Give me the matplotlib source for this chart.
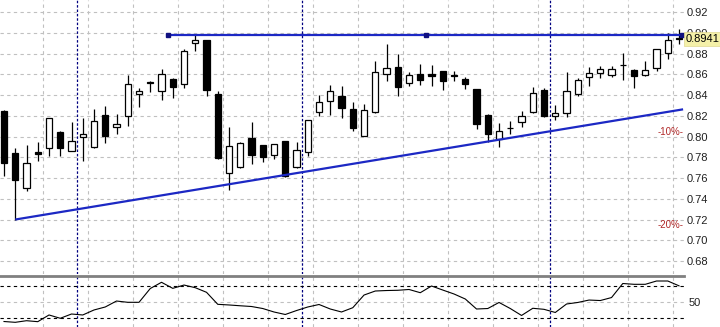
import numpy as np
import matplotlib
matplotlib.use('Agg')
import matplotlib.pyplot as plt

plt.rcParams['font.family'] = ['Liberation Sans', 'DejaVu Sans']

# ---OHLC data, one candle per bar
opens = [0.8252, 0.7839, 0.7505, 0.7854, 0.7887, 0.8046, 0.7864, 0.8000, 0.7897, 0.8214,
         0.8094, 0.8198, 0.8408, 0.8525, 0.8444, 0.8560, 0.8511, 0.8907, 0.8929, 0.8415,
         0.7650, 0.7709, 0.7984, 0.7916, 0.7822, 0.7958, 0.7709, 0.7851, 0.8237, 0.8344,
         0.8395, 0.8269, 0.8010, 0.8243, 0.8606, 0.8677, 0.8518, 0.8606, 0.8606, 0.8631,
         0.8594, 0.8560, 0.8456, 0.8211, 0.7978, 0.8085, 0.8140, 0.8243, 0.8447, 0.8204,
         0.8227, 0.8415, 0.8577, 0.8618, 0.8599, 0.8692, 0.8648, 0.8599, 0.8664, 0.8810,
         0.8950]
highs = [0.8255, 0.7887, 0.7919, 0.7946, 0.8185, 0.8055, 0.8146, 0.8179, 0.8269, 0.8298,
         0.8217, 0.8592, 0.8470, 0.8535, 0.8657, 0.8563, 0.8842, 0.8977, 0.8932, 0.8437,
         0.8097, 0.7951, 0.8140, 0.7920, 0.7932, 0.7960, 0.7946, 0.8162, 0.8398, 0.8502,
         0.8485, 0.8334, 0.8317, 0.8728, 0.8890, 0.8800, 0.8625, 0.8703, 0.8696, 0.8635,
         0.8631, 0.8573, 0.8460, 0.8215, 0.8130, 0.8155, 0.8250, 0.8480, 0.8470, 0.8305,
         0.8621, 0.8567, 0.8670, 0.8680, 0.8686, 0.8803, 0.8650, 0.8728, 0.8842, 0.9004,
         0.9036]
lows = [0.7621, 0.7201, 0.7476, 0.7767, 0.7813, 0.7813, 0.7860, 0.7767, 0.7890, 0.7936,
        0.8026, 0.8107, 0.8282, 0.8434, 0.8356, 0.8373, 0.8470, 0.8825, 0.8389, 0.7785,
        0.7483, 0.7699, 0.7735, 0.7757, 0.7781, 0.7613, 0.7700, 0.7813, 0.8204, 0.8211,
        0.8184, 0.8055, 0.8005, 0.8227, 0.8534, 0.8388, 0.8492, 0.8502, 0.8492, 0.8453,
        0.8541, 0.8460, 0.8075, 0.7951, 0.7903, 0.8023, 0.8097, 0.8227, 0.8188, 0.8162,
        0.8194, 0.8388, 0.8485, 0.8567, 0.8577, 0.8550, 0.8470, 0.8583, 0.8638, 0.8752,
        0.8890]
closes = [0.7751, 0.7586, 0.7751, 0.7835, 0.8179, 0.7887, 0.7955, 0.8026, 0.8150, 0.8010,
          0.8123, 0.8509, 0.8437, 0.8520, 0.8602, 0.8480, 0.8825, 0.8936, 0.8454, 0.7790,
          0.7907, 0.7936, 0.7822, 0.7800, 0.7929, 0.7621, 0.7871, 0.8159, 0.8334, 0.8441,
          0.8276, 0.8082, 0.8256, 0.8621, 0.8660, 0.8480, 0.8599, 0.8548, 0.8586, 0.8534,
          0.8590, 0.8512, 0.8120, 0.8026, 0.8055, 0.8080, 0.8201, 0.8421, 0.8201, 0.8227,
          0.8437, 0.8550, 0.8616, 0.8650, 0.8657, 0.8688, 0.8589, 0.8648, 0.8842, 0.8932,
          0.8941]

# ---Oscillator (lower panel)
osc = [26.2, 25.2, 27.2, 26.0, 34.3, 30.2, 35.5, 34.3, 40.5, 44.2,
       51.6, 50.0, 50.0, 67.1, 74.8, 67.3, 71.4, 68.1, 62.4, 47.5,
       46.7, 45.7, 44.8, 42.3, 38.0, 34.9, 39.8, 44.2, 47.3, 41.7,
       38.0, 43.3, 59.0, 64.0, 64.6, 64.9, 65.9, 61.9, 70.2, 65.2,
       60.3, 54.1, 41.7, 42.3, 49.8, 42.3, 33.7, 42.6, 41.3, 37.4,
       47.9, 49.8, 52.8, 52.2, 55.9, 73.3, 72.3, 72.3, 76.4, 76.4,
       70.4]

price_ticks = [0.68, 0.70, 0.72, 0.74, 0.76, 0.78, 0.80, 0.82, 0.84, 0.86, 0.88, 0.90, 0.92]
last_price = 0.8941
resist_level = 0.8984
resist_x = (14.6, 60.4)
trend_pts = ((1, 0.7201), (60.36, 0.8264))
separators = [6.5, 26.5, 48.5]
osc_levels = [30, 70]

W, H = 720, 327
fig = plt.figure(figsize=(W / 100, H / 100), dpi=100)
plot_w = 684 / W
ax = fig.add_axes([0, 1 - 273.5 / H, plot_w, 273.5 / H])
ax2 = fig.add_axes([0, 0, plot_w, 51 / H])

n = len(opens)
x = np.arange(n)
x_lo, x_hi = -0.356, 60.44

# ---Main panel grid
grid_kw = dict(color='#c0c0c0', lw=0.8, ls=(0, (3, 3)), zorder=0)
for gx in np.arange(3.5, n, 4):
    ax.axvline(gx, **grid_kw)
    ax2.axvline(gx, **grid_kw)
for gy in price_ticks:
    ax.axhline(gy, **grid_kw)
for sx in separators:
    ax.axvline(sx, color='#000080', lw=0.9, ls=(0, (2, 1.5)), zorder=1)
    ax2.axvline(sx, color='#000080', lw=0.9, ls=(0, (2, 1.5)), zorder=1)

# ---Candles
o = np.array(opens)
c = np.array(closes)
up = c >= o
ax.vlines(x, lows, highs, color='black', lw=0.9, zorder=2)
body_h = np.maximum(np.abs(c - o), 0.0002)
ax.bar(x[up], body_h[up], bottom=np.minimum(o, c)[up], width=0.55,
       facecolor='white', edgecolor='black', lw=0.9, zorder=3)
ax.bar(x[~up], body_h[~up], bottom=np.minimum(o, c)[~up], width=0.55,
       facecolor='black', edgecolor='black', lw=0.9, zorder=3)

# ---Trend lines
blue = '#1c28c4'
ax.plot([trend_pts[0][0], trend_pts[1][0]], [trend_pts[0][1], trend_pts[1][1]],
        color=blue, lw=1.6, zorder=4, solid_capstyle='butt')
ax.plot(resist_x, [resist_level, resist_level], color=blue, lw=1.6, zorder=4)
ax.plot([resist_x[0], np.mean(resist_x), resist_x[1] - 0.1], [resist_level] * 3,
        ls='none', marker='s', ms=3.5, color='#101080', zorder=5)

ax.set_xlim(x_lo, x_hi)
ax.set_ylim(0.66804, 0.93186)
ax.yaxis.tick_right()
ax.set_yticks(price_ticks)
ax.set_yticklabels([f'{t:.2f}' for t in price_ticks])
ax.tick_params(axis='y', length=0, pad=2, labelsize=8, colors='#202020')
ax.set_xticks([])
for s in ax.spines.values():
    s.set_visible(False)

# ---Percent labels
for pct in (10, 20):
    ax.text(x_hi - 0.05, last_price * (1 - pct / 100), f'-{pct}%-', ha='right', va='center',
            fontsize=7, color='#b02828')

# ---Last price box
ax.text(x_hi + 0.15, last_price, f'{last_price:.4f}', ha='left', va='center',
        fontsize=8, color='black', clip_on=False, zorder=10,
        bbox=dict(boxstyle='square,pad=0.15', facecolor='#f4f0a8', edgecolor='#e0d890', lw=0.5))

# ---Lower panel
ax2.plot(x, osc, color='black', lw=0.8, zorder=3)
for lv in osc_levels:
    ax2.axhline(lv, color='black', lw=0.8, ls=(0, (3, 3)), zorder=2)
ax2.axhline(50, **grid_kw)
ax2.set_xlim(x_lo, x_hi)
ax2.set_ylim(19.4, 82.6)
ax2.yaxis.tick_right()
ax2.set_yticks([50])
ax2.tick_params(axis='y', length=0, pad=3, labelsize=8, colors='#202020')
ax2.set_xticks([])
for s in ax2.spines.values():
    s.set_visible(False)
ax2.spines['top'].set_visible(True)
ax2.spines['top'].set_color('#808080')
ax2.spines['top'].set_linewidth(2)

fig.savefig('out.png', dpi=100)
